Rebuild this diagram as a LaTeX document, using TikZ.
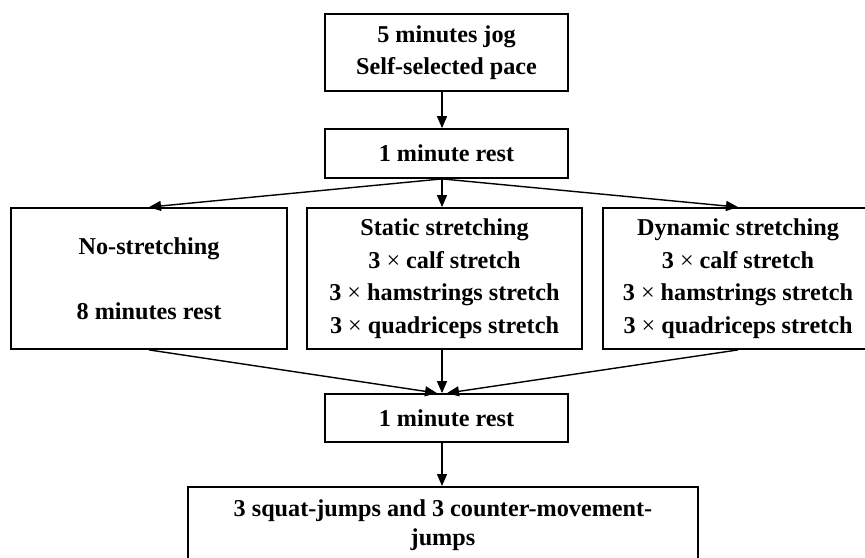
\documentclass[tikz,border=0pt]{standalone}
\usepackage{fontspec}
\setmainfont{Liberation Serif}
\usetikzlibrary{arrows.meta}
\newcommand{\tms}{{\mdseries ×}}

\begin{document}
\begin{tikzpicture}[x=0.5pt,y=-0.5pt,
    box/.style={draw,line width=0.9pt,align=center,inner sep=0pt,
        font=\fontsize{12.1}{16.3}\selectfont\bfseries},
    arr/.style={line width=0.7pt,-{Triangle[length=6pt,width=5pt]}}]
    \clip (0,0) rectangle (865,557);
    \coordinate (spine) at (442,0);
    \node[box,minimum width=121.5pt,minimum height=38.5pt] (jog) at (446.5,52.5) {5 minutes jog\\Self-selected pace};
    \node[box,minimum width=121.5pt,minimum height=24.5pt] (rest1) at (446.5,153.5) {1 minute rest};
    \node[box,minimum width=138pt,minimum height=70.5pt] (nostr) at (149,278.5) {No-stretching\\[16pt]8 minutes rest};
    \node[box,minimum width=137.5pt,minimum height=70.5pt] (static) at (444.5,278.5) {Static stretching\\3 \tms{} calf stretch\\3 \tms{} hamstrings stretch\\3 \tms{} quadriceps stretch};
    \node[box,minimum width=135pt,minimum height=70.5pt] (dynamic) at (738,278.5) {Dynamic stretching\\3 \tms{} calf stretch\\3 \tms{} hamstrings stretch\\3 \tms{} quadriceps stretch};
    \node[box,minimum width=121.5pt,minimum height=24pt] (rest2) at (446.5,418) {1 minute rest};
    \node[box,minimum width=255pt,inner ysep=6.3pt,anchor=north,
        font=\fontsize{12.1}{14.5}\selectfont\bfseries] (jumps) at (443,486) {3 squat-jumps and 3 counter-movement-\\jumps};
    % arrows down the middle
    \draw[arr] (jog.south -| spine) -- (rest1.north -| spine);
    \draw[arr] (rest1.south -| spine) -- (static.north -| spine);
    \draw[arr] (rest1.south -| spine) -- (nostr.north);
    \draw[arr] (rest1.south -| spine) -- (dynamic.north);
    \draw[arr] (nostr.south) -- ([xshift=-2.5pt]rest2.north -| spine);
    \draw[arr] (static.south -| spine) -- (rest2.north -| spine);
    \draw[arr] (dynamic.south) -- ([xshift=2.5pt]rest2.north -| spine);
    \draw[arr] (rest2.south -| spine) -- (jumps.north -| spine);
\end{tikzpicture}
\end{document}
